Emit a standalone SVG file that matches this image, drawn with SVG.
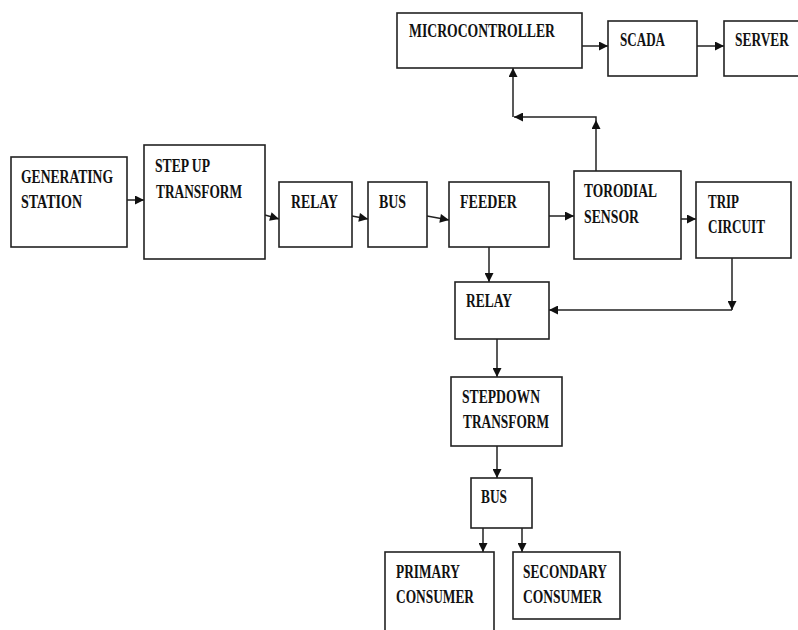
<svg xmlns="http://www.w3.org/2000/svg" width="798" height="630" viewBox="0 0 798 630">
<defs>
<style>
.box{fill:#fff;stroke:#222;stroke-width:1.6}
.lbl{font-family:"Liberation Serif","Times New Roman",serif;font-weight:bold;font-size:18px;fill:#111}
.con{fill:none;stroke:#222;stroke-width:1.5}
</style>
<marker id="ah" viewBox="0 0 10 10" refX="10" refY="5" markerWidth="10" markerHeight="9" markerUnits="userSpaceOnUse" orient="auto">
<path d="M0,0 L10,5 L0,10 z" fill="#111"/>
</marker>
</defs>
<rect width="798" height="630" fill="#fff"/>
<g id="connectors">
<path class="con" marker-end="url(#ah)" d="M127,200 H144"/>
<path class="con" marker-end="url(#ah)" d="M265,215 L279,219"/>
<path class="con" marker-end="url(#ah)" d="M352,216 L368,219"/>
<path class="con" marker-end="url(#ah)" d="M427,216 L449,220"/>
<path class="con" marker-end="url(#ah)" d="M549,216 H574"/>
<path class="con" marker-end="url(#ah)" d="M681,219 H696"/>
<path class="con" marker-end="url(#ah)" d="M596,171 V120"/>
<path class="con" marker-end="url(#ah)" d="M596,120 V117 H514"/>
<path class="con" marker-end="url(#ah)" d="M513,117 V68"/>
<path class="con" marker-end="url(#ah)" d="M582,46 H608"/>
<path class="con" marker-end="url(#ah)" d="M697,46 H724"/>
<path class="con" marker-end="url(#ah)" d="M489,247 V282"/>
<path class="con" marker-end="url(#ah)" d="M732,258 V310"/>
<path class="con" marker-end="url(#ah)" d="M732,310 H549"/>
<path class="con" marker-end="url(#ah)" d="M497,339 V377"/>
<path class="con" marker-end="url(#ah)" d="M497,446 V478"/>
<path class="con" marker-end="url(#ah)" d="M483,528 V552"/>
<path class="con" marker-end="url(#ah)" d="M522,528 V552"/>
</g>
<g id="microcontroller"><rect class="box" x="397" y="13" width="185" height="55"/><text class="lbl" x="409" y="37" textLength="146" lengthAdjust="spacingAndGlyphs">MICROCONTROLLER</text></g>
<g id="scada"><rect class="box" x="608" y="21" width="89" height="55"/><text class="lbl" x="620" y="46" textLength="45" lengthAdjust="spacingAndGlyphs">SCADA</text></g>
<g id="server"><rect class="box" x="724" y="21" width="90" height="55"/><text class="lbl" x="735" y="46" textLength="54" lengthAdjust="spacingAndGlyphs">SERVER</text></g>
<g id="generating-station"><rect class="box" x="11" y="157" width="116" height="90"/><text class="lbl" x="21" y="183" textLength="92" lengthAdjust="spacingAndGlyphs">GENERATING</text><text class="lbl" x="21" y="208" textLength="61" lengthAdjust="spacingAndGlyphs">STATION</text></g>
<g id="step-up"><rect class="box" x="144" y="145" width="121" height="114"/><text class="lbl" x="155" y="172" textLength="55" lengthAdjust="spacingAndGlyphs">STEP UP</text><text class="lbl" x="156" y="198" textLength="86" lengthAdjust="spacingAndGlyphs">TRANSFORM</text></g>
<g id="relay1"><rect class="box" x="279" y="182" width="73" height="65"/><text class="lbl" x="291" y="208" textLength="47" lengthAdjust="spacingAndGlyphs">RELAY</text></g>
<g id="bus1"><rect class="box" x="368" y="182" width="59" height="65"/><text class="lbl" x="379" y="208" textLength="27" lengthAdjust="spacingAndGlyphs">BUS</text></g>
<g id="feeder"><rect class="box" x="449" y="182" width="100" height="65"/><text class="lbl" x="460" y="208" textLength="57" lengthAdjust="spacingAndGlyphs">FEEDER</text></g>
<g id="toroidal-sensor"><rect class="box" x="574" y="171" width="107" height="88"/><text class="lbl" x="584" y="197" textLength="73" lengthAdjust="spacingAndGlyphs">TORODIAL</text><text class="lbl" x="584" y="223" textLength="55" lengthAdjust="spacingAndGlyphs">SENSOR</text></g>
<g id="trip-circuit"><rect class="box" x="696" y="182" width="95" height="76"/><text class="lbl" x="708" y="208" textLength="31" lengthAdjust="spacingAndGlyphs">TRIP</text><text class="lbl" x="708" y="233" textLength="57" lengthAdjust="spacingAndGlyphs">CIRCUIT</text></g>
<g id="relay2"><rect class="box" x="455" y="282" width="94" height="57"/><text class="lbl" x="466" y="307" textLength="46" lengthAdjust="spacingAndGlyphs">RELAY</text></g>
<g id="stepdown"><rect class="box" x="451" y="377" width="111" height="69"/><text class="lbl" x="462" y="403" textLength="78" lengthAdjust="spacingAndGlyphs">STEPDOWN</text><text class="lbl" x="463" y="428" textLength="86" lengthAdjust="spacingAndGlyphs">TRANSFORM</text></g>
<g id="bus2"><rect class="box" x="471" y="478" width="61" height="50"/><text class="lbl" x="481" y="503" textLength="26" lengthAdjust="spacingAndGlyphs">BUS</text></g>
<g id="primary-consumer"><rect class="box" x="385" y="552" width="109" height="95"/><text class="lbl" x="396" y="578" textLength="64" lengthAdjust="spacingAndGlyphs">PRIMARY</text><text class="lbl" x="396" y="603" textLength="78" lengthAdjust="spacingAndGlyphs">CONSUMER</text></g>
<g id="secondary-consumer"><rect class="box" x="513" y="552" width="107" height="67"/><text class="lbl" x="523" y="578" textLength="84" lengthAdjust="spacingAndGlyphs">SECONDARY</text><text class="lbl" x="523" y="603" textLength="79" lengthAdjust="spacingAndGlyphs">CONSUMER</text></g>
</svg>
